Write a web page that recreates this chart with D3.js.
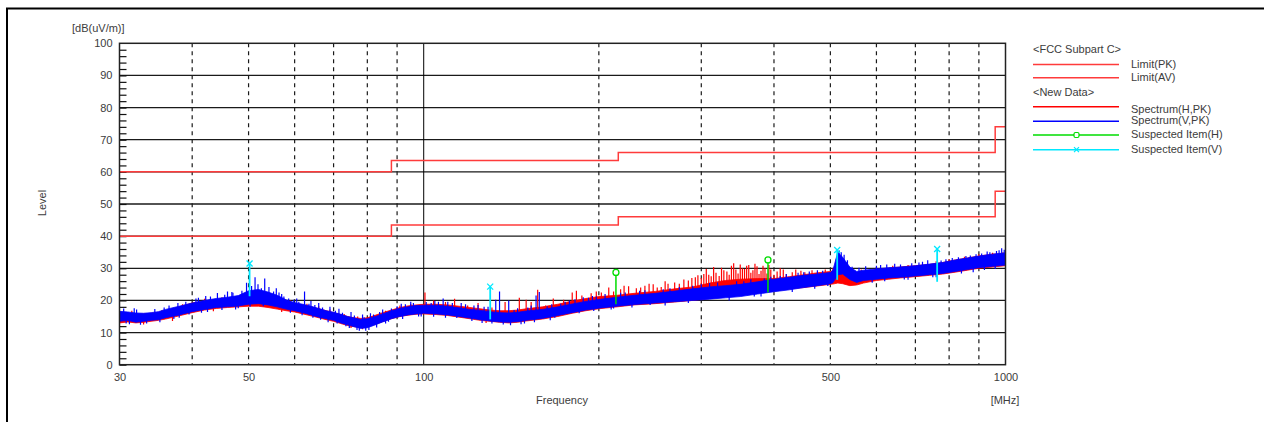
<!DOCTYPE html>
<html>
<head>
<meta charset="utf-8">
<script src="https://cdn.jsdelivr.net/npm/d3@7"></script>
<style>
  body { margin: 0; background: #fff; }
  svg text { font-family: "Liberation Sans", Arial, sans-serif; font-size: 11px; fill: #3c3c3c; }
</style>
</head>
<body>
<svg id="chart" width="1264" height="422"></svg>
<script>
// frequency grid for the spectrum envelopes (MHz)
const freqGrid = [30, 31, 32, 33, 34, 35, 36, 38, 40, 42, 44, 46, 48, 50, 52, 54, 56, 58, 60, 62,
  64, 66, 68, 70, 72, 74, 76, 78, 80, 82, 85, 88, 91, 94, 97, 100, 105, 110, 115, 120,
  125, 130, 135, 140, 145, 150, 160, 170, 180, 190, 200, 215, 230, 250, 270, 290, 310, 330, 350, 375,
  400, 425, 450, 475, 500, 505, 515, 525, 540, 555, 570, 600, 630, 660, 700, 740, 780, 820, 860, 900,
  950, 1000];

// Spectrum(H,PK) band, low / high edge (dB(uV/m))
const hLo = [13.0, 13.3, 13.0, 13.2, 13.5, 13.8, 14.2, 15.2, 16.2, 17.0, 17.5, 17.8, 18.0, 18.2, 18.2, 17.8, 17.3, 16.8, 16.4, 15.8,
  15.2, 14.6, 14.0, 13.5, 12.8, 12.2, 11.8, 11.6, 11.8, 12.4, 13.4, 14.3, 15.0, 15.4, 15.7, 15.8, 15.6, 15.3, 14.8, 14.3,
  13.8, 13.5, 13.2, 13.0, 13.2, 13.6, 14.2, 15.0, 16.0, 16.8, 17.4, 18.0, 18.6, 19.0, 19.5, 20.0, 20.6, 21.2, 22.0, 22.6,
  23.0, 23.6, 24.0, 24.5, 25.0, 25.1, 25.4, 25.2, 24.6, 24.8, 25.4, 26.2, 26.6, 27.0, 27.4, 27.8, 28.2, 28.8, 29.4, 30.0,
  30.4, 30.8];
const hHi = [16.0, 16.0, 15.6, 15.8, 16.0, 16.3, 16.8, 18.0, 19.2, 19.8, 20.3, 20.5, 20.8, 21.0, 20.8, 20.5, 20.0, 19.5, 19.0, 18.5,
  18.0, 17.4, 16.8, 16.2, 15.6, 15.0, 14.6, 14.4, 14.6, 15.2, 16.2, 17.0, 17.8, 18.3, 18.6, 18.8, 18.8, 18.6, 18.2, 17.8,
  17.4, 17.0, 16.8, 16.8, 17.0, 17.4, 18.0, 18.8, 19.8, 20.6, 21.2, 21.6, 22.2, 22.8, 23.6, 24.2, 25.4, 26.2, 26.6, 26.8,
  26.8, 27.4, 28.0, 28.6, 29.0, 29.2, 29.8, 29.4, 28.4, 28.6, 29.0, 29.6, 30.0, 30.4, 30.8, 31.2, 31.8, 32.6, 33.2, 33.8,
  34.4, 34.6];

// Spectrum(V,PK) band, low / high edge
const vLo = [13.5, 13.8, 13.2, 13.5, 13.8, 14.0, 14.6, 15.5, 16.5, 17.2, 17.8, 18.0, 18.3, 18.8, 19.0, 18.6, 18.0, 17.3, 16.8, 16.2,
  15.5, 14.8, 14.3, 13.8, 13.0, 12.4, 11.8, 11.3, 11.5, 12.2, 13.3, 14.3, 15.0, 15.5, 15.8, 16.0, 15.8, 15.5, 15.0, 14.5,
  14.0, 13.6, 13.3, 13.2, 13.4, 13.8, 14.4, 15.3, 16.2, 17.0, 17.6, 18.2, 18.7, 19.2, 19.6, 20.0, 20.4, 20.8, 21.2, 22.0,
  22.7, 23.3, 24.0, 24.6, 25.2, 25.5, 28.0, 28.2, 26.5, 25.6, 26.2, 26.6, 27.0, 27.2, 27.6, 28.0, 28.4, 29.0, 29.6, 30.2,
  30.6, 31.0];
const vHi = [16.6, 16.4, 16.1, 16.0, 16.2, 16.5, 17.2, 18.2, 19.2, 20.0, 20.6, 21.0, 21.5, 23.0, 23.4, 22.6, 21.6, 20.2, 19.3, 18.8,
  18.2, 17.5, 16.8, 16.3, 15.7, 15.0, 14.5, 14.1, 14.3, 14.8, 15.8, 16.8, 17.5, 18.0, 18.4, 18.5, 18.5, 18.2, 17.7, 17.2,
  16.9, 16.5, 16.2, 16.1, 16.3, 16.7, 17.2, 18.0, 18.9, 19.7, 20.3, 21.0, 21.6, 22.2, 22.9, 23.6, 24.2, 24.6, 25.0, 25.8,
  26.6, 27.2, 27.8, 28.2, 28.7, 29.4, 35.0, 33.4, 30.4, 29.0, 29.4, 29.8, 30.2, 30.4, 30.8, 31.3, 31.8, 32.6, 33.2, 33.8,
  34.4, 34.8];

// single-sample spikes [MHz, dB]
const hSpikes = [[31.5, 16.8], [33, 12.5], [35.5, 17.0], [37, 13.6], [38.5, 18.8], [42, 20.5], [43.5, 16.6], [45, 21.0], [48, 21.4],
  [50, 22.0], [51, 21.6], [53, 21.4], [56, 20.8], [57, 16.4], [59, 20.0], [63, 19.0], [66, 18.2], [69, 17.2], [73, 15.8],
  [75, 11.4], [77, 15.0], [78.5, 11.0], [81, 15.2], [86, 16.8], [91, 18.4], [95, 18.9], [100.5, 22.5], [104, 20.0],
  [109, 19.5], [113, 20.5], [119, 18.4], [124, 19.2], [128, 13.0], [131, 17.8], [138, 19.5], [146, 20.8], [150, 20.2],
  [153, 19.5], [157, 23.3], [162, 18.4], [167, 20.6], [174, 20.2], [180, 22.5], [183, 23.0], [187, 21.5], [194, 22.2],
  [198, 22.8], [202, 22.5], [208, 24.0], [212, 22.8], [218, 23.5], [221, 24.6], [225, 24.4], [232, 23.8], [236, 24.0],
  [240, 24.6], [244, 25.2], [248, 25.0], [252, 24.0], [256, 24.2], [260, 26.0], [263, 25.2], [270, 25.6], [275, 25.2],
  [280, 26.5], [285, 26.2], [289, 27.0], [293, 27.2], [296, 27.8], [300, 27.0], [303, 28.2], [306, 29.8], [309, 28.0],
  [312, 27.5], [315, 30.4], [318, 28.6], [322, 27.6], [325, 30.2], [328, 29.4], [332, 29.0], [335, 28.0], [338, 30.8],
  [341, 31.6], [344, 29.6], [347, 28.4], [350, 31.2], [353, 30.0], [356, 29.8], [359, 30.8], [362, 31.0], [365, 28.6],
  [368, 29.4], [371, 31.4], [374, 30.6], [377, 28.2], [380, 29.2], [383, 30.8], [386, 30.0], [389, 28.4], [392, 31.0],
  [395, 29.6], [400, 28.0], [405, 29.0], [410, 30.0], [415, 29.6], [420, 28.2], [430, 28.8], [436, 29.6], [445, 29.2],
  [452, 28.8], [465, 29.4], [490, 29.6], [505, 30.0], [540, 29.0], [565, 29.6], [600, 30.4], [640, 30.8], [680, 31.0],
  [720, 31.4], [760, 32.2], [800, 32.8], [850, 33.6], [900, 34.4], [950, 34.8], [990, 35.0]];
const vSpikes = [[30.5, 17.5], [30.8, 12.8], [31.2, 12.6], [31.8, 17.6], [32.1, 17.2], [32.6, 12.4], [33.4, 12.8], [34.5, 17.3],
  [35.2, 13.2], [35.8, 17.8], [36.5, 18.4], [37.2, 14.2], [37.8, 19.2], [38, 14.6], [39, 19.6], [39.5, 15.6], [40.6, 20.6],
  [41, 20.8], [41.5, 16.2], [42.2, 21.4], [42.5, 16.4], [43, 21.2], [44.2, 22.3], [45, 17.0], [45.5, 21.8], [46, 22.8],
  [46.8, 22.6], [47, 22.4], [47.5, 17.2], [48, 17.6], [48.7, 23.0], [49.6, 25.5], [50.3, 18.0], [50.6, 24.5], [51.3, 27.2],
  [51.9, 25.0], [52.6, 23.8], [53, 18.2], [53.3, 26.8], [54.2, 24.2], [55.2, 22.8], [55.8, 23.8], [56.4, 22.5], [57, 22.0],
  [57.5, 21.2], [58.6, 20.6], [59, 16.2], [59.8, 20.2], [60.5, 20.6], [61, 19.6], [61.8, 15.4], [62.4, 22.8], [63.5, 19.0],
  [64, 19.8], [64.5, 14.6], [65, 18.6], [66, 19.2], [66.5, 14.0], [67, 17.8], [68.5, 13.2], [69, 18.0], [70.5, 16.8],
  [71, 12.8], [71.5, 17.4], [72.5, 16.2], [73.5, 12.0], [74.5, 11.4], [75, 16.4], [76, 15.3], [76.8, 10.8], [77.5, 10.6],
  [78.5, 15.6], [79, 14.8], [79.5, 10.6], [80.5, 10.8], [81, 16.0], [82, 15.6], [83, 11.6], [84, 16.4], [85, 17.2],
  [86, 12.8], [87, 13.4], [88, 17.5], [90, 18.2], [91.5, 19.0], [92, 14.2], [93, 18.8], [95, 19.6], [96, 19.2], [98, 15.0],
  [99, 15.0], [101, 19.5], [103, 19.2], [104, 14.9], [104.5, 19.8], [106, 19.6], [108, 20.6], [109, 14.6], [110, 19.6],
  [112, 19.2], [114, 14.5], [116, 19.2], [118, 18.8], [121, 13.6], [122, 18.4], [124, 18.6], [126, 13.0], [127, 18.0],
  [129, 18.0], [131, 12.8], [133, 20.2], [135, 22.8], [137, 12.5], [140, 20.0], [141, 12.3], [143, 17.0], [145, 17.6],
  [147, 12.6], [149, 12.8], [151, 17.8], [153, 18.4], [155, 13.2], [156, 21.5], [158, 22.6], [163, 18.2], [165, 13.8],
  [166, 18.8], [168, 14.6], [172, 19.0], [175, 19.6], [178, 20.0], [182, 20.4], [185, 16.0], [188, 21.0], [192, 20.8],
  [195, 21.4], [196, 16.7], [198, 21.2], [205, 22.0], [210, 17.2], [212, 17.5], [218, 22.4], [222, 22.5], [228, 17.8],
  [235, 23.0], [240, 23.2], [245, 18.6], [258, 23.5], [260, 18.4], [265, 23.8], [275, 24.2], [285, 19.2], [290, 24.6],
  [300, 25.0], [310, 25.4], [320, 25.6], [335, 20.0], [345, 26.0], [355, 26.0], [365, 26.6], [370, 21.2], [380, 21.2],
  [385, 26.8], [395, 27.4], [410, 27.6], [420, 28.2], [430, 22.6], [440, 28.6], [450, 28.8], [460, 29.0], [470, 23.6],
  [475, 29.4], [485, 29.2], [495, 24.5], [512, 33.0], [518, 35.5], [522, 35.0], [528, 34.2], [535, 32.5], [545, 30.5],
  [560, 30.2], [575, 30.6], [590, 25.5], [600, 30.8], [610, 31.0], [620, 26.0], [625, 31.2], [645, 31.4], [660, 31.2],
  [670, 26.5], [680, 26.4], [690, 31.6], [710, 31.8], [720, 32.0], [735, 32.5], [750, 27.2], [760, 27.2], [775, 32.4],
  [790, 32.8], [810, 33.2], [830, 33.4], [840, 28.4], [855, 33.8], [870, 34.0], [880, 28.8], [890, 34.4], [910, 34.6],
  [920, 29.5], [930, 35.2], [940, 35.0], [960, 29.8], [965, 35.4], [975, 35.6], [985, 36.2], [995, 35.8]];

// FCC Subpart C limits, step starts [MHz, dB]
const limitPK = [[30, 60], [88, 63.5], [216, 66], [960, 74], [1000, 74]];
const limitAV = [[30, 40], [88, 43.5], [216, 46], [960, 54], [1000, 54]];

// suspected items [MHz, stem base, peak]
const suspectH = [[214, 18.8, 28.7], [390.6, 22.5, 32.6]];
const suspectV = [[50.2, 21.3, 31.5], [130.1, 14.1, 24.3], [513.7, 26.4, 35.7], [763, 25.8, 36.0]];

const yTicks = [0, 10, 20, 30, 40, 50, 60, 70, 80, 90, 100];
const xLabels = [30, 50, 100, 500, 1000];
const xDashed = [40, 50, 60, 70, 80, 90, 200, 300, 400, 500, 600, 700, 800, 900];

const RED = "#ff0000", BLUE = "#0000ff", LIMIT = "#ff3b3b", GREEN = "#00dd00", CYAN = "#00e8ff";

const svg = d3.select("#chart");
const x = d3.scaleLog().domain([30, 1000]).range([119.5, 1005.5]);
const y = d3.scaleLinear().domain([0, 100]).range([364.7, 43.3]);

// outer frame
svg.append("path").attr("d", "M7,430V8.5H1270").attr("fill", "none").attr("stroke", "#000").attr("stroke-width", 2);

svg.append("defs").append("clipPath").attr("id", "plot")
  .append("rect").attr("x", 119.5).attr("y", 43.3).attr("width", 886).attr("height", 321.4);

// grid
const grid = svg.append("g");
grid.selectAll("line.h").data(yTicks.slice(1, -1)).join("line")
  .attr("x1", x(30)).attr("x2", x(1000)).attr("y1", d => y(d)).attr("y2", d => y(d))
  .attr("stroke", "#1a1a1a").attr("stroke-width", 1.3);
grid.selectAll("line.v").data(xDashed).join("line")
  .attr("x1", d => x(d)).attr("x2", d => x(d)).attr("y1", y(100)).attr("y2", y(0))
  .attr("stroke", "#1a1a1a").attr("stroke-width", 1.2).attr("stroke-dasharray", "4,4");
grid.append("line").attr("x1", x(100)).attr("x2", x(100)).attr("y1", y(100)).attr("y2", y(0))
  .attr("stroke", "#000").attr("stroke-width", 1);

// minor ticks on the level axis
svg.append("g").attr("transform", `translate(${x(30)},0)`)
  .call(d3.axisRight(y).tickValues(d3.range(0, 100, 2)).tickSize(7).tickFormat(""))
  .call(g => g.select(".domain").remove())
  .selectAll("line").attr("stroke", "#111").attr("stroke-width", 1.2);

// spectra
const plot = svg.append("g").attr("clip-path", "url(#plot)");

function edgeAt(lo, hi, f) {
  const i = Math.max(1, Math.min(freqGrid.length - 1, d3.bisectLeft(freqGrid, f)));
  const f0 = freqGrid[i - 1], f1 = freqGrid[i];
  const t = (Math.log(f) - Math.log(f0)) / (Math.log(f1) - Math.log(f0));
  return ((lo[i - 1] + hi[i - 1]) * (1 - t) + (lo[i] + hi[i]) * t) / 2;
}

function drawSpectrum(lo, hi, spikes, color) {
  const area = d3.area().x((d, i) => x(freqGrid[i])).y0((d, i) => y(lo[i])).y1((d, i) => y(hi[i]));
  plot.append("path").datum(lo).attr("d", area).attr("fill", color).attr("stroke", color).attr("stroke-width", 0.8);
  plot.append("g").selectAll("line").data(spikes).join("line")
    .attr("x1", d => x(d[0])).attr("x2", d => x(d[0]))
    .attr("y1", d => y(edgeAt(lo, hi, d[0]))).attr("y2", d => y(d[1]))
    .attr("stroke", color).attr("stroke-width", 1.2);
}
drawSpectrum(hLo, hHi, hSpikes, RED);
drawSpectrum(vLo, vHi, vSpikes, BLUE);

// limits
const step = d3.line().x(d => x(d[0])).y(d => y(d[1])).curve(d3.curveStepAfter);
[limitPK, limitAV].forEach(l => {
  plot.append("path").datum(l).attr("d", step).attr("fill", "none").attr("stroke", LIMIT).attr("stroke-width", 1.5);
});

// suspected items
function crossPath(cx, cy, s) {
  return `M${cx - s},${cy - s}L${cx + s},${cy + s}M${cx - s},${cy + s}L${cx + s},${cy - s}`;
}
const sus = svg.append("g");
sus.selectAll("line.sh").data(suspectH).join("line")
  .attr("x1", d => x(d[0])).attr("x2", d => x(d[0])).attr("y1", d => y(d[1])).attr("y2", d => y(d[2]))
  .attr("stroke", GREEN).attr("stroke-width", 1.5);
sus.selectAll("circle").data(suspectH).join("circle")
  .attr("cx", d => x(d[0])).attr("cy", d => y(d[2])).attr("r", 3)
  .attr("fill", "#fff").attr("stroke", GREEN).attr("stroke-width", 1.3);
sus.selectAll("line.sv").data(suspectV).join("line")
  .attr("x1", d => x(d[0])).attr("x2", d => x(d[0])).attr("y1", d => y(d[1])).attr("y2", d => y(d[2]))
  .attr("stroke", CYAN).attr("stroke-width", 1.8);
sus.selectAll("path").data(suspectV).join("path")
  .attr("d", d => crossPath(x(d[0]), y(d[2]), 3))
  .attr("stroke", CYAN).attr("stroke-width", 1.3);

// plot frame
svg.append("rect").attr("x", x(30)).attr("y", y(100)).attr("width", x(1000) - x(30)).attr("height", y(0) - y(100))
  .attr("fill", "none").attr("stroke", "#222").attr("stroke-width", 1.5);

// axis labels
svg.append("g").attr("transform", `translate(${x(30)},0)`)
  .call(d3.axisLeft(y).tickValues(yTicks).tickSize(0).tickPadding(7).tickFormat(d3.format("d")))
  .call(g => g.select(".domain").remove())
  .selectAll("text").attr("font-family", null).attr("font-size", null);
svg.append("g").attr("transform", `translate(0,${y(0)})`)
  .call(d3.axisBottom(x).tickValues(xLabels).tickSize(0).tickPadding(9).tickFormat(d3.format("d")))
  .call(g => g.select(".domain").remove())
  .selectAll("text").attr("font-family", null).attr("font-size", null);

svg.append("text").attr("x", 72).attr("y", 32).text("[dB(uV/m)]");
svg.append("text").attr("transform", "translate(46,203) rotate(-90)").attr("text-anchor", "middle").text("Level");
svg.append("text").attr("x", 562).attr("y", 404).attr("text-anchor", "middle").text("Frequency");
svg.append("text").attr("x", 1005).attr("y", 404).attr("text-anchor", "middle").text("[MHz]");

// legend
const legendHeads = [["<FCC Subpart C>", 50], ["<New Data>", 93]];
const legendItems = [
  { name: "Limit(PK)", color: LIMIT, y: 64.5, ty: 65.5 },
  { name: "Limit(AV)", color: LIMIT, y: 77.7, ty: 78.5 },
  { name: "Spectrum(H,PK)", color: RED, y: 106.7, ty: 110.5 },
  { name: "Spectrum(V,PK)", color: BLUE, y: 121.3, ty: 121.5 },
  { name: "Suspected Item(H)", color: GREEN, y: 135, ty: 135.5, mark: "o" },
  { name: "Suspected Item(V)", color: CYAN, y: 149.7, ty: 150, mark: "x" }
];
const lg = svg.append("g");
lg.selectAll("text.head").data(legendHeads).join("text")
  .attr("x", 1033).attr("y", d => d[1]).attr("dominant-baseline", "middle").text(d => d[0]);
lg.selectAll("line").data(legendItems).join("line")
  .attr("x1", 1033).attr("x2", 1119).attr("y1", d => d.y).attr("y2", d => d.y)
  .attr("stroke", d => d.color).attr("stroke-width", 1.5);
lg.selectAll("text.item").data(legendItems).join("text")
  .attr("x", 1131).attr("y", d => d.ty).attr("dominant-baseline", "middle").text(d => d.name);
legendItems.filter(d => d.mark === "o").forEach(d => {
  lg.append("rect").attr("x", 1074).attr("y", d.y - 2.5).attr("width", 5).attr("height", 5).attr("rx", 1.5)
    .attr("fill", "#fff").attr("stroke", d.color).attr("stroke-width", 1.2);
});
legendItems.filter(d => d.mark === "x").forEach(d => {
  lg.append("path").attr("d", crossPath(1076.5, d.y, 2.5)).attr("stroke", d.color).attr("stroke-width", 1.2);
});
</script>
</body>
</html>
